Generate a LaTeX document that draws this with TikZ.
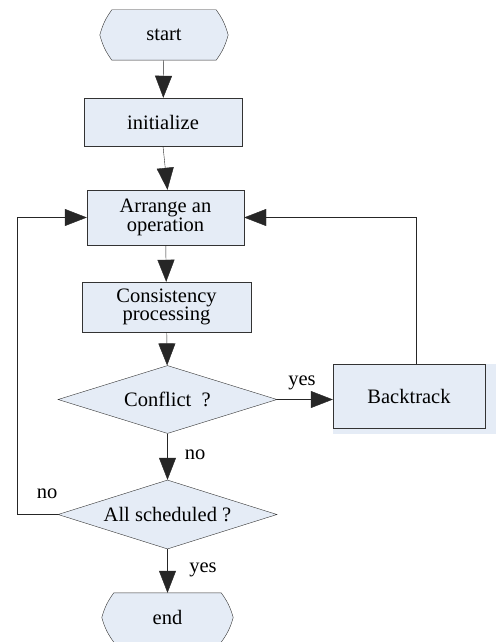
\documentclass[tikz,border=0pt]{standalone}
\usepackage{fontspec}
\setmainfont{Liberation Serif}
\usetikzlibrary{shapes.geometric,arrows.meta,calc,backgrounds}

\definecolor{boxfill}{HTML}{E5ECF6}
\definecolor{boxline}{HTML}{333333}

\tikzset{
  box/.style={draw=boxline, fill=boxfill, align=center, inner sep=0pt},
  terminal/.style={align=center, inner sep=0pt},
  decision/.style={box, diamond, aspect=3.2},
  flow/.style={draw=black!85, -{Triangle[length=22pt,width=17pt]}},
  lbl/.style={inner sep=0pt}
}

\begin{document}
\begin{tikzpicture}[x=1pt, y=-1pt, font=\fontsize{20.5}{18.5}\selectfont]
  \useasboundingbox (0,0) rectangle (496,642);
  % boxes
  \node [terminal, minimum width=128pt, minimum height=50pt] (start) at (164,35) {start};
  \node [box, minimum width=158pt, minimum height=48pt] (init) at (163,122) {initialize};
  \node [box, minimum width=157pt, minimum height=55pt] (arrange) at (165.5,217.5) {Arrange an\\operation};
  \node [box, minimum width=169pt, minimum height=50pt] (consist) at (166.5,307) {Consistency\\processing};
  \node [decision, minimum width=219pt, minimum height=68pt] (conflict) at (167.5,399.5) {Conflict\ \ ?};
  \fill [boxfill] (333,364) rectangle (496,434);
  \node [box, minimum width=152pt, minimum height=64pt] (back) at (409,396) {Backtrack};
  \node [decision, minimum width=219pt, minimum height=69pt] (allsch) at (167.5,514.5) {All scheduled ?};
  \node [terminal, minimum width=131pt, minimum height=49pt] (end) at (167.5,617.5) {end};
  \coordinate (loop) at (17,514.5);

  % terminal outlines
  \begin{scope}[on background layer]
    \foreach \t in {start,end}
      \draw [box] ($(\t.north west)+(12,0)$) to[bend right=10] (\t.west)
        to[bend right=10] ($(\t.south west)+(12,0)$) -- ($(\t.south east)+(-12,0)$)
        to[bend right=10] (\t.east) to[bend right=10] ($(\t.north east)+(-12,0)$) -- cycle;
  \end{scope}

  % connectors
  \draw [flow] (start) -- (init);
  \draw [flow] (init.south) -- ([xshift=2pt]arrange.north);
  \draw [flow] (arrange) -- (consist);
  \draw [flow] (consist) -- (conflict);
  \draw [flow] (conflict.east) -- (conflict.east -| back.west);
  \draw [flow] ([xshift=7pt]back.north) |- (arrange.east);
  \draw [flow] (conflict) -- (allsch);
  \draw [flow] (allsch.west) -- (loop) |- (arrange.west);
  \draw [flow] (allsch) -- (end);

  % labels
  \node [lbl] (yes1) at (302,383) {yes};
  \node [lbl] (no1) at (195,455) {no};
  \node [lbl] (no2) at (47,494) {no};
  \node [lbl] (yes2) at (203,570) {yes};
\end{tikzpicture}
\end{document}
